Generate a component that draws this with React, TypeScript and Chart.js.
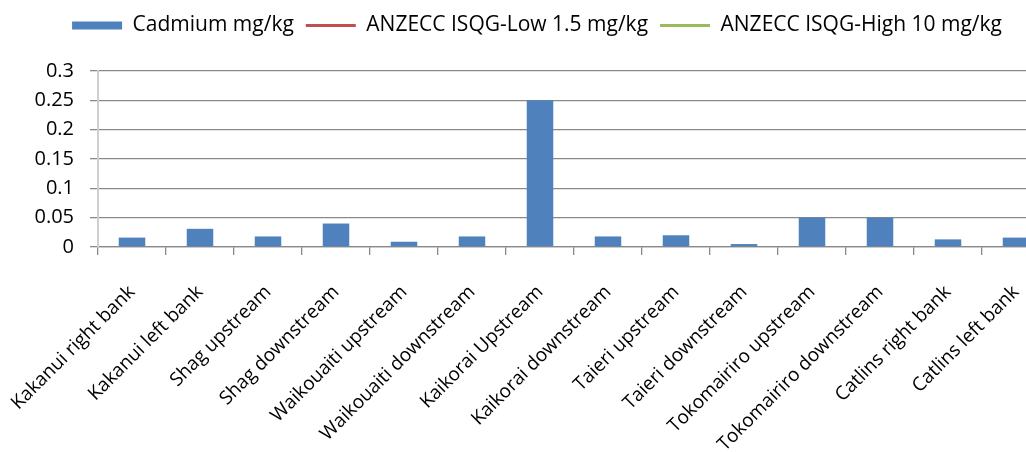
import React, { useEffect, useRef } from "react";
import { Chart, registerables } from "chart.js";

Chart.register(...registerables);

const categories = [
  "Kakanui right bank",
  "Kakanui left bank",
  "Shag upstream",
  "Shag downstream",
  "Waikouaiti upstream",
  "Waikouaiti downstream",
  "Kaikorai Upstream",
  "Kaikorai downstream",
  "Taieri upstream",
  "Taieri downstream",
  "Tokomairiro upstream",
  "Tokomairiro downstream",
  "Catlins right bank",
  "Catlins left bank",
];

const cadmium = [0.016, 0.031, 0.018, 0.04, 0.009, 0.018, 0.25, 0.018, 0.02, 0.005, 0.05, 0.05, 0.013, 0.016];
const isqgLow = [1.5, 1.5, 1.5, 1.5, 1.5, 1.5, 1.5, 1.5, 1.5, 1.5, 1.5, 1.5, 1.5, 1.5];
const isqgHigh = [10, 10, 10, 10, 10, 10, 10, 10, 10, 10, 10, 10, 10, 10];
const yTicks = [0, 0.05, 0.1, 0.15, 0.2, 0.25, 0.3];

const seriesNames = ["Cadmium mg/kg", "ANZECC ISQG-Low 1.5 mg/kg", "ANZECC ISQG-High 10 mg/kg"];
const seriesColors = ["#4F81BD", "#C0504D", "#9BBB59"];

const FONT = "'Open Sans', 'Noto Sans', sans-serif";

export default function App() {
  const ref = useRef<HTMLCanvasElement | null>(null);

  useEffect(() => {
    if (!ref.current) return;
    const chart = new Chart(ref.current, {
      data: {
        labels: categories,
        datasets: [
          {
            type: "bar",
            label: seriesNames[0],
            data: cadmium,
            backgroundColor: seriesColors[0],
            borderWidth: 0,
            barPercentage: 0.39,
            categoryPercentage: 1,
          },
          {
            type: "line",
            label: seriesNames[1],
            data: isqgLow,
            borderColor: seriesColors[1],
            backgroundColor: seriesColors[1],
            borderWidth: 3,
            pointRadius: 0,
          },
          {
            type: "line",
            label: seriesNames[2],
            data: isqgHigh,
            borderColor: seriesColors[2],
            backgroundColor: seriesColors[2],
            borderWidth: 3,
            pointRadius: 0,
          },
        ],
      } as any,
      options: {
        animation: false,
        responsive: true,
        maintainAspectRatio: false,
        layout: { padding: { top: 3, left: 24, right: 0, bottom: 0 } },
        plugins: {
          tooltip: { enabled: false },
          title: {
            display: true,
            text: "",
            position: "top",
            weight: 500,
            font: { size: 10, lineHeight: 1.2 },
            padding: { top: 7, bottom: 6 },
          },
          legend: {
            display: true,
            position: "top",
            align: "center",
            labels: {
              usePointStyle: true,
              pointStyleWidth: 50,
              boxHeight: 8,
              padding: 12,
              color: "#000",
              font: { family: FONT, size: 21 },
              generateLabels: (c: any) => {
                const items = (Chart.defaults.plugins.legend.labels as any).generateLabels(c);
                return items.map((it: any) => {
                  const i = it.datasetIndex;
                  return {
                    ...it,
                    pointStyle: i === 0 ? "rect" : "line",
                    fillStyle: seriesColors[i],
                    strokeStyle: seriesColors[i],
                    lineWidth: i === 0 ? 0 : 3,
                  };
                });
              },
            },
          },
        },
        scales: {
          x: {
            offset: true,
            grid: {
              offset: true,
              drawOnChartArea: false,
              drawTicks: true,
              tickLength: 8,
              color: "#8a8a8a",
              lineWidth: 1.3,
            },
            border: { display: true, color: "#8a8a8a", width: 1.3 },
            ticks: {
              autoSkip: false,
              minRotation: 45,
              maxRotation: 45,
              padding: 26,
              color: "#000",
              font: { family: FONT, size: 19 },
            },
            afterFit: (s: any) => {
              s.height = 205;
              s.paddingLeft = 0;
              s.paddingRight = 0;
            },
          },
          y: {
            min: 0,
            max: 0.3,
            afterBuildTicks: (s: any) => {
              s.ticks = yTicks.map((v) => ({ value: v }));
            },
            grid: {
              drawTicks: true,
              tickLength: 8,
              color: "#8a8a8a",
              lineWidth: 1.3,
            },
            border: { display: true, color: "#cfcfcf", width: 2 },
            ticks: {
              padding: 16,
              color: "#000",
              font: { family: FONT, size: 20 },
              callback: (v: any) => String(Number(Number(v).toFixed(2))),
            },
            afterFit: (s: any) => {
              s.width = 74;
            },
          },
        },
      } as any,
    });
    return () => chart.destroy();
  }, []);

  return (
    <div
      style={{
        position: "fixed",
        left: 0,
        top: 0,
        width: 1026,
        height: 452,
        overflow: "hidden",
        background: "#fff",
      }}
    >
      <div style={{ position: "relative", width: 1050, height: 452 }}>
        <canvas ref={ref} />
      </div>
    </div>
  );
}
